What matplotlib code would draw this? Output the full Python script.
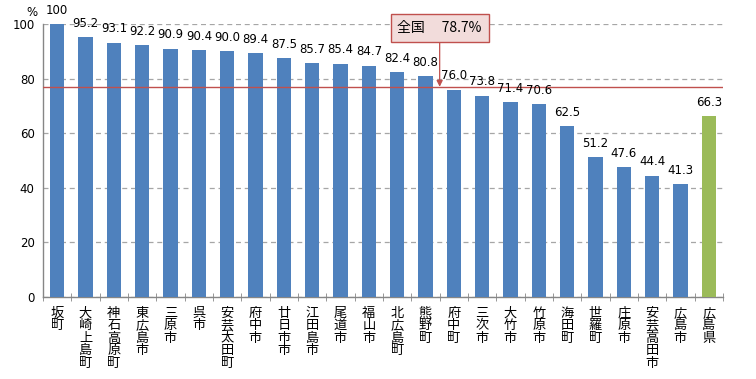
import matplotlib
matplotlib.use("Agg")
import matplotlib.pyplot as plt
import numpy as np

plt.rcParams['font.family'] = ['Noto Sans CJK JP', 'DejaVu Sans']

categories = ["坂町", "大崎上島町", "神石高原町", "東広島市", "三原市", "呉市", "安芸太田町",
              "府中市", "廿日市市", "江田島市", "尾道市", "福山市", "北広島町", "熊野町",
              "府中町", "三次市", "大竹市", "竹原市", "海田町", "世羅町", "庄原市",
              "安芸高田市", "広島市", "広島県"]
values = [100, 95.2, 93.1, 92.2, 90.9, 90.4, 90.0, 89.4, 87.5, 85.7, 85.4, 84.7, 82.4,
          80.8, 76.0, 73.8, 71.4, 70.6, 62.5, 51.2, 47.6, 44.4, 41.3, 66.3]
labels = ["100"] + [f"{v:.1f}" for v in values[1:]]
national_label = "全国　 78.7%"
national_line = 77.0
yticks = [0, 20, 40, 60, 80, 100]

fig = plt.figure(figsize=(7.56, 3.79), dpi=100)
ax = fig.add_axes([43/756, 1-297/379, (723-43)/756, (297-24)/379])

x = np.arange(len(categories))
colors = ["#4f81bd"] * (len(categories) - 1) + ["#9bbb59"]
ax.bar(x, values, width=0.5, color=colors, zorder=3)

for xi, v, lab in zip(x, values, labels):
    ax.text(xi, v + 2.7, lab, ha='center', va='bottom', fontsize=8.5,
            family=['DejaVu Sans'], zorder=5)

ax.set_xlim(-0.5, len(categories) - 0.5)
ax.set_ylim(0, 100)
ax.set_yticks(yticks)
ax.set_yticklabels([str(t) for t in yticks], fontsize=8.5, family=['DejaVu Sans'])
ax.yaxis.grid(True, linestyle=(0, (4, 3)), color='#a6a6a6', linewidth=0.9, zorder=0)
ax.tick_params(axis='y', length=0, pad=6)

ax.set_xticks(x)
ax.set_xticklabels(["\n".join(c) for c in categories], fontsize=9.5, linespacing=0.95,
                   va='top')
ax.tick_params(axis='x', which='major', length=0, pad=7)
ax.set_xticks(np.arange(-0.5, len(categories), 1.0), minor=True)
ax.tick_params(axis='x', which='minor', length=6, direction='inout', color='#868686')

for s in ['top', 'right']:
    ax.spines[s].set_visible(False)
for s in ['left', 'bottom']:
    ax.spines[s].set_color('#868686')
    ax.spines[s].set_linewidth(1.0)

ax.axhline(national_line, color='#c0504d', linewidth=1.0, zorder=4)

ax.annotate(national_label, xy=(13.5, national_line), xytext=(13.5, 98.5),
            ha='center', va='center', fontsize=10,
            bbox=dict(boxstyle='square,pad=0.5', fc='#f2dcdb', ec='#c0504d', lw=1.0),
            arrowprops=dict(arrowstyle='-|>', color='#c0504d', lw=0.9,
                            mutation_scale=9, shrinkA=0, shrinkB=0),
            zorder=6, annotation_clip=False)

fig.text(32/756, 1-12/379, "%", ha='center', va='center', fontsize=8.5,
         family=['DejaVu Sans'])

fig.savefig("out.png", dpi=100)
